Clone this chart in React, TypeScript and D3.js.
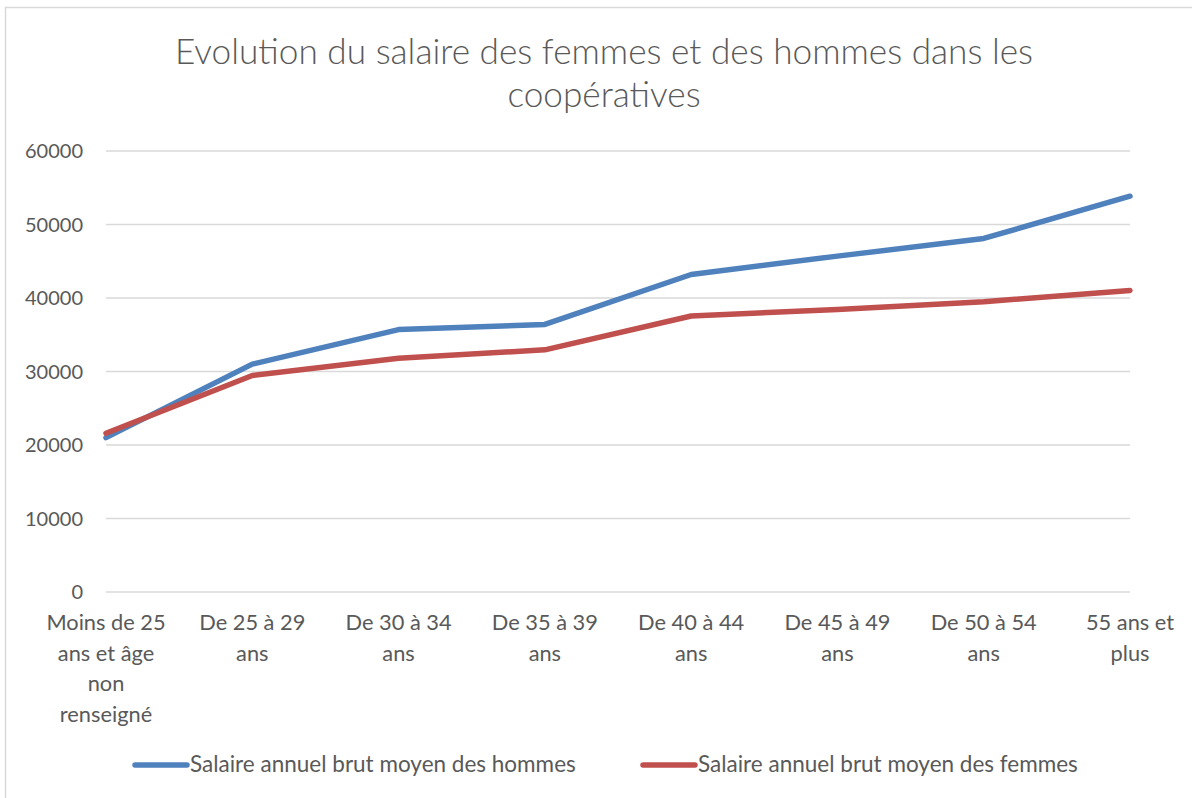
import React from "react";
import * as d3 from "d3";

const categories: string[] = [
  "Moins de 25\nans et âge\nnon\nrenseigné",
  "De 25 à 29\nans",
  "De 30 à 34\nans",
  "De 35 à 39\nans",
  "De 40 à 44\nans",
  "De 45 à 49\nans",
  "De 50 à 54\nans",
  "55 ans et\nplus",
];
const hommes: number[] = [21000, 31000, 35700, 36400, 43200, 45700, 48100, 53850];
const femmes: number[] = [21600, 29450, 31800, 32950, 37550, 38450, 39500, 41030];
const yTicks: number[] = [0, 10000, 20000, 30000, 40000, 50000, 60000];
const seriesNames: string[] = [
  "Salaire annuel brut moyen des hommes",
  "Salaire annuel brut moyen des femmes",
];
const title: string[] = [
  "Evolution du salaire des femmes et des hommes dans les",
  "coopératives",
];

const W = 1192;
const H = 798;
const FONT = "Lato, 'Open Sans', sans-serif";
const TXT = "#595959";
const COLORS = ["#4F81BD", "#C0504D"];

export default function App() {
  const x = d3
    .scalePoint<string>()
    .domain(categories)
    .range([106, 1130]);
  const y = d3.scaleLinear().domain([0, 60000]).range([592, 151]);
  const line = d3
    .line<number>()
    .x((_, i) => x(categories[i]) as number)
    .y((d) => y(d));
  const series = [hommes, femmes];

  return (
    <svg
      width={W}
      height={H}
      style={{ position: "absolute", left: 0, top: 0, background: "#fff" }}
      fontFamily={FONT}
    >
      <rect x={5.5} y={7.5} width={W + 20} height={H + 20} fill="#fff" stroke="#d9d9d9" strokeWidth={1.5} />
      {title.map((t, i) => (
        <text
          key={i}
          x={604}
          y={64 + i * 43}
          textAnchor="middle"
          fontSize={35.2}
          fontWeight={300}
          fill={TXT}
        >
          {t}
        </text>
      ))}
      {yTicks.map((t) => (
        <g key={t}>
          <line x1={106} x2={1130} y1={y(t)} y2={y(t)} stroke="#d9d9d9" strokeWidth={1.5} />
          <text x={83} y={y(t) + 7} textAnchor="end" fontSize={20} fill={TXT}>
            {t}
          </text>
        </g>
      ))}
      {categories.map((c) => (
        <text key={c} x={x(c)} textAnchor="middle" fontSize={21.8} fill={TXT}>
          {c.split("\n").map((l, j) => (
            <tspan key={j} x={x(c)} y={630 + j * 30.5}>
              {l}
            </tspan>
          ))}
        </text>
      ))}
      {series.map((s, i) => (
        <path
          key={i}
          d={line(s) || ""}
          fill="none"
          stroke={COLORS[i]}
          strokeWidth={5.5}
          strokeLinecap="round"
          strokeLinejoin="round"
        />
      ))}
      {seriesNames.map((n, i) => {
        const lx = i === 0 ? 135 : 643;
        return (
          <g key={n}>
            <line x1={lx} x2={lx + 52} y1={765} y2={765} stroke={COLORS[i]} strokeWidth={5.5} strokeLinecap="round" />
            <text x={lx + 55} y={772} fontSize={22.5} fill={TXT}>
              {n}
            </text>
          </g>
        );
      })}
    </svg>
  );
}
